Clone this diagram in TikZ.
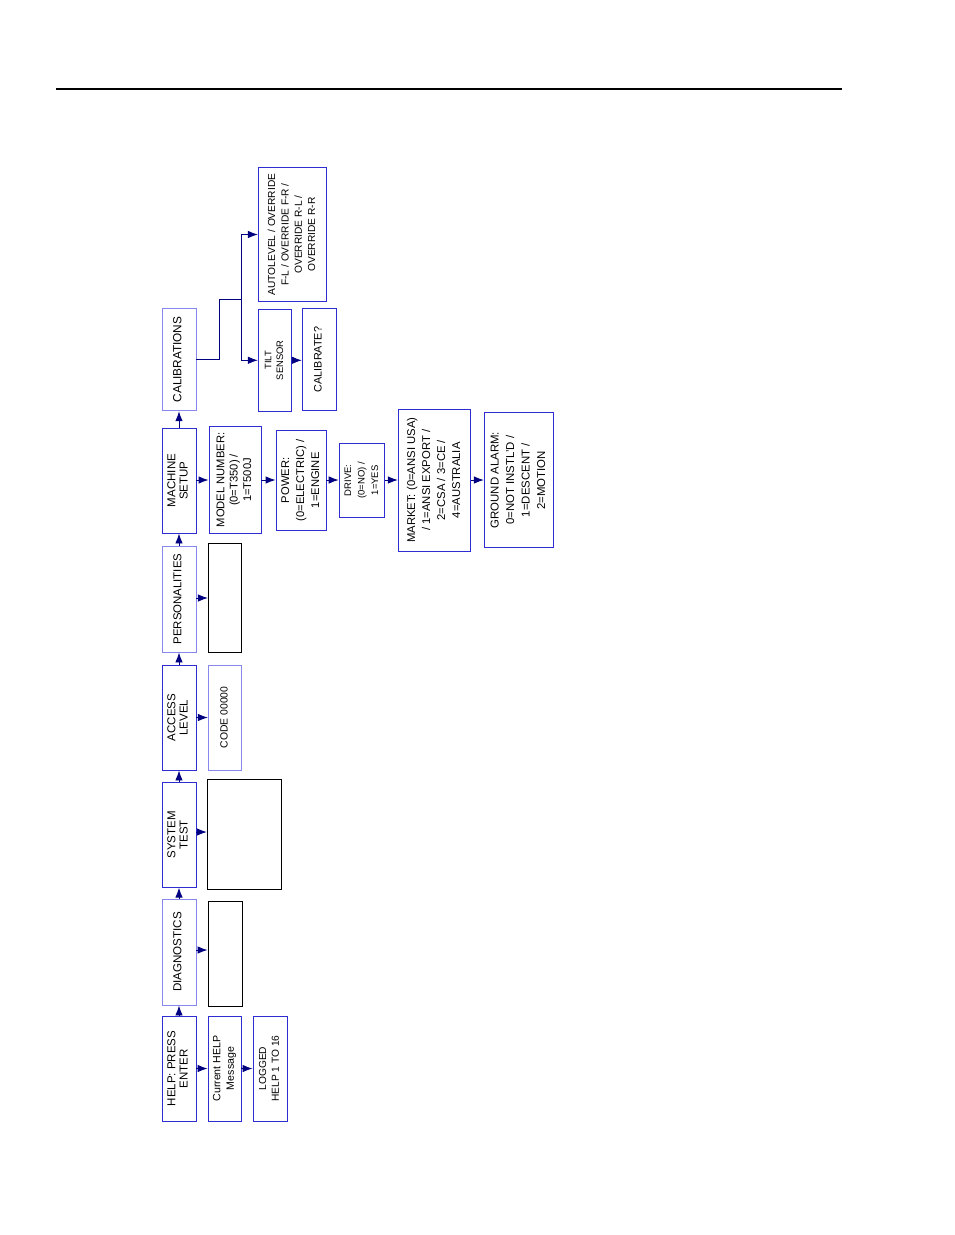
\documentclass[tikz,border=0pt]{standalone}
\usepackage{graphicx}
\usepackage{fontspec}
\setmainfont{Liberation Sans}
\usetikzlibrary{arrows.meta}
\definecolor{bdark}{RGB}{45,45,210}
\definecolor{blight}{RGB}{135,135,238}
\definecolor{anavy}{RGB}{0,0,128}
\newcommand\vt[3]{\rotatebox{90}{\fontsize{#1}{#2}\selectfont\begin{tabular}{@{}c@{}}#3\end{tabular}}}
\begin{document}
\begin{tikzpicture}[x=1pt,y=-1pt,
  bx/.style={draw=bdark, line width=0.9pt, inner sep=0pt, align=center},
  lbx/.style={bx, draw=blight},
  blank/.style={draw=black, line width=0.9pt, inner sep=0pt},
  link/.style={draw=anavy, line width=0.9pt},
  arr/.style={link, -{Latex[length=10pt,width=7.5pt]}}]
\path[use as bounding box] (0,0) rectangle (954,1235);
\coordinate (rl) at (56,89);
\coordinate (rr) at (842,89);
\draw[line width=1.1pt] (rl) -- (rr);

% main column
\node[bx, minimum width=34pt, minimum height=105pt] (help) at (179,1068.5) {\vt{11.5}{12.3}{HELP: PRESS\\ENTER}};
\node[lbx, minimum width=34pt, minimum height=106pt] (diag) at (179,952) {\vt{11.6}{12.3}{DIAGNOSTICS}};
\node[bx, minimum width=34pt, minimum height=105pt] (sys) at (179,834.7) {\vt{11.5}{12.3}{SYSTEM\\TEST}};
\node[bx, minimum width=34pt, minimum height=105pt] (acc) at (179,717.5) {\vt{11.5}{12.3}{ACCESS\\LEVEL}};
\node[lbx, minimum width=34pt, minimum height=106pt] (pers) at (179,599) {\vt{11.4}{12.3}{PERSONALITIES}};
\node[bx, minimum width=34pt, minimum height=105pt] (mach) at (179,480.5) {\vt{11.5}{12.3}{MACHINE\\SETUP}};
\node[lbx, minimum width=34pt, minimum height=102.5pt] (cal) at (179,359.5) {\vt{11.8}{12.3}{CALIBRATIONS}};

% second column
\node[bx, minimum width=33pt, minimum height=105pt] (curhelp) at (224.5,1068.5) {\vt{10.6}{13.5}{Current HELP\\Message}};
\node[bx, minimum width=34pt, minimum height=105pt] (logged) at (270,1068.5) {\vt{10.2}{12.7}{LOGGED\\HELP 1 TO 16}};
\node[blank, minimum width=34pt, minimum height=105pt] (diagblank) at (225,954) {};
\node[blank, minimum width=74.4pt, minimum height=110pt] (sysblank) at (244.5,834.3) {};
\node[lbx, minimum width=33.4pt, minimum height=105pt] (code) at (225,717.5) {\vt{10.4}{12.5}{CODE 00000}};
\node[blank, minimum width=32.7pt, minimum height=109pt] (persblank) at (224.7,597.8) {};
\node[bx, minimum width=52pt, minimum height=106.5pt] (model) at (235,480) {\vt{11.2}{13.4}{MODEL NUMBER:\\(0=T350) /\\1=T500J}};
\node[bx, minimum width=50pt, minimum height=99.3pt] (power) at (301,480.3) {\vt{11.2}{15}{POWER:\\(0=ELECTRIC) /\\1=ENGINE}};
\node[bx, minimum width=45.7pt, minimum height=74pt] (drive) at (362,480.3) {\vt{9.5}{13.5}{DRIVE:\\(0=NO) /\\1=YES}};
\node[bx, minimum width=72.4pt, minimum height=141.7pt] (market) at (434.5,480.2) {\vt{11.3}{15}{MARKET: (0=ANSI USA)\\/ 1=ANSI EXPORT /\\2=CSA / 3=CE /\\4=AUSTRALIA}};
\node[bx, minimum width=69pt, minimum height=135pt] (ground) at (518.8,480.2) {\vt{11.4}{15.5}{GROUND ALARM:\\0=NOT INSTL'D /\\1=DESCENT /\\2=MOTION}};
\node[bx, minimum width=68.4pt, minimum height=134.4pt] (auto) at (292.5,234.5) {\vt{10.2}{13.3}{AUTOLEVEL / OVERRIDE\\F-L / OVERRIDE F-R /\\OVERRIDE R-L /\\OVERRIDE R-R}};
\node[bx, minimum width=33.4pt, minimum height=102.7pt] (tilt) at (275,360.3) {\vt{9.4}{11.7}{TILT\\SENSOR}};
\node[bx, minimum width=33.7pt, minimum height=102.4pt] (calib) at (319.2,359.5) {\vt{10.8}{12.5}{CALIBRATE?}};

% vertical arrows in main column
\draw[arr] (help) -- (diag);
\draw[arr] (diag) -- (sys);
\draw[arr] (sys) -- (acc);
\draw[arr] (acc) -- (pers);
\draw[arr] (pers) -- (mach);
\draw[arr] (mach) -- (cal);

% horizontal arrows
\draw[arr] (help.east) -- (curhelp.west);
\draw[arr] (curhelp.east) -- (logged.west);
\draw[arr] (diag.east |- 0,950) -- (diagblank.west |- 0,950);
\draw[arr] (sys.east |- 0,832) -- (sysblank.west |- 0,832);
\draw[arr] (acc.east) -- (code.west);
\draw[arr] (pers.east |- 0,598) -- (persblank.west |- 0,598);
\draw[arr] (mach.east |- model.west) -- (model.west);
\draw[arr] (model.east) -- (power.west |- model.east);
\draw[arr] (power.east |- model.east) -- (drive.west |- model.east);
\draw[arr] (drive.east |- model.east) -- (market.west |- model.east);
\draw[arr] (market.east |- model.east) -- (ground.west |- model.east);
\draw[arr] (tilt.east) -- (calib.west |- tilt.east);

% calibrations branch
\coordinate (cb) at (219.3,299.3);
\coordinate (cv) at (241.7,299.3);
\draw[link] (cal.east) -| (cb) -- (cv);
\draw[arr] (cv) |- (auto.west);
\draw[arr] (cv) |- (tilt.west);
\end{tikzpicture}
\end{document}
